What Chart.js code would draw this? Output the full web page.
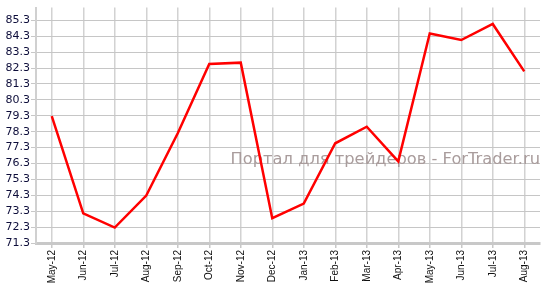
<!DOCTYPE html>
<html>
<head>
<meta charset="utf-8">
<script src="https://cdn.jsdelivr.net/npm/chart.js@4/dist/chart.umd.min.js"></script>
<style>
	html, body { margin: 0; padding: 0; background: #fff; }
	#wrap { position: relative; width: 547px; height: 295px; }
</style>
</head>
<body>
<div id="wrap"><canvas id="priceChart"></canvas></div>
<script>
var MONTHS = ['May-12', 'Jun-12', 'Jul-12', 'Aug-12', 'Sep-12', 'Oct-12', 'Nov-12', 'Dec-12',
	'Jan-13', 'Feb-13', 'Mar-13', 'Apr-13', 'May-13', 'Jun-13', 'Jul-13', 'Aug-13'];

var PRICES = [79.27, 73.16, 72.27, 74.28, 78.2, 82.56, 82.64, 72.86,
	73.78, 77.57, 78.61, 76.43, 84.47, 84.06, 85.07, 82.09];

var Y_TICKS = [71.3, 72.3, 73.3, 74.3, 75.3, 76.3, 77.3, 78.3, 79.3, 80.3, 81.3, 82.3, 83.3, 84.3, 85.3];

var WATERMARK = 'Портал для трейдеров - ForTrader.ru';

var watermarkPlugin = {
	id: 'watermark',
	beforeDatasetsDraw: function (chart) {
		var ctx = chart.ctx;
		ctx.save();
		ctx.font = '16.3px "DejaVu Sans"';
		ctx.fillStyle = '#a99c9c';
		ctx.textAlign = 'right';
		ctx.textBaseline = 'alphabetic';
		ctx.fillText(WATERMARK, chart.chartArea.right, 164);
		ctx.restore();
	}
};

var priceData = {
	labels: MONTHS,
	datasets: [{
		data: PRICES,
		borderColor: '#ff0000',
		backgroundColor: '#ff0000',
		borderWidth: 2.5,
		pointRadius: 0,
		tension: 0,
		fill: false
	}]
};

var priceOptions = {
	responsive: true,
	maintainAspectRatio: false,
	animation: false,
	layout: {
		padding: { top: 5, right: 7, bottom: 0, left: 0 }
	},
	scales: {
		x: {
			offset: true,
			grid: {
				color: '#d2d2d2',
				lineWidth: 1.5,
				offset: false,
				tickLength: 5,
				tickColor: '#c8c8c8'
			},
			border: { color: '#c8c8c8', width: 3 },
			ticks: {
				minRotation: 90,
				maxRotation: 90,
				autoSkip: false,
				padding: 2,
				color: '#111',
				font: { family: '"Liberation Sans", Arial', size: 10 }
			},
			afterFit: function (scale) {
				scale.height = 52;
			}
		},
		y: {
			min: 71.3,
			max: 86.1,
			grid: {
				color: '#c6c6c6',
				lineWidth: 1,
				tickLength: 5,
				tickColor: '#c8c8c8'
			},
			border: { color: '#d0d0d0', width: 2 },
			afterBuildTicks: function (scale) {
				scale.ticks = Y_TICKS.map(function (v) { return { value: v }; });
			},
			ticks: {
				padding: 1,
				color: '#0d0d3a',
				font: { family: '"DejaVu Sans"', size: 11 },
				callback: function (value) {
					return Number(value).toFixed(1);
				}
			},
			afterFit: function (scale) {
				scale.width = 36;
			}
		}
	},
	plugins: {
		legend: { display: false },
		title: { display: false },
		tooltip: { enabled: false }
	}
};

var priceCtx = document.getElementById('priceChart');

var priceChart = new Chart(priceCtx, {
	type: 'line',
	data: priceData,
	options: priceOptions,
	plugins: [watermarkPlugin]
});
</script>
</body>
</html>
